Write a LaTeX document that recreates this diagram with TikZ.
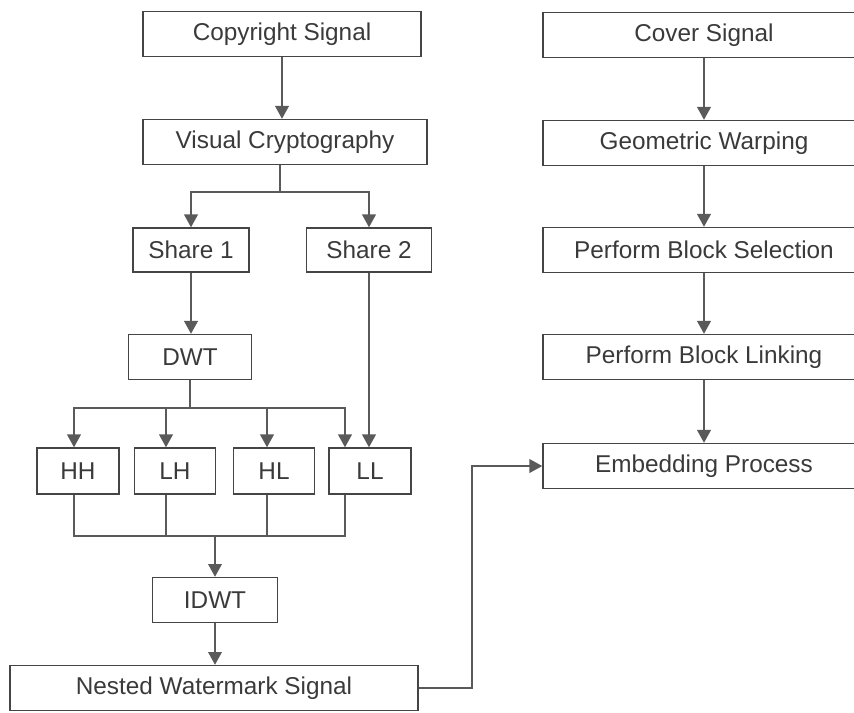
\documentclass[tikz,border=0pt]{standalone}
\usepackage{fontspec}
\setmainfont{Liberation Sans}
\usetikzlibrary{positioning}
\usetikzlibrary{arrows.meta}
\definecolor{linegray}{HTML}{5A5A5A}
\definecolor{boxgray}{HTML}{454545}
\definecolor{textgray}{HTML}{3A3A3A}
\tikzset{
    blk/.style = {rectangle, draw=boxgray, line width=1pt, minimum height=1.125cm, inner sep=0pt, align=center, font=\fontsize{17.3}{20}\selectfont, text=textgray},
    blkr/.style = {blk, minimum width=8.05cm},
    flow/.style = {-{Triangle[width=0.34cm,length=0.32cm]}, line width=1.3pt, linegray},
    link/.style = {-, line width=1.3pt, linegray},
}

\begin{document}
\begin{tikzpicture}[x=0.025cm, y=-0.025cm]
\useasboundingbox (0,0) rectangle (854,712);
%
\node[blk, minimum width=6.95cm] at (282, 34) (copy) {Copyright Signal};
\node[blk, minimum width=7.1cm] at (285, 142) (vc) {Visual Cryptography};
\node[blk, minimum width=2.9cm, minimum height=1.1cm] at (191, 250) (s1) {Share 1};
\node[blk, minimum width=3.125cm, minimum height=1.1cm] at (369, 250) (s2) {Share 2};
\node[blk, minimum width=3.075cm] at (190, 357) (dwt) {DWT};
\node[blk, minimum width=2.05cm, minimum height=1.15cm] at (78, 471) (hh) {HH};
\node[blk, minimum width=2.025cm, minimum height=1.15cm] at (175, 471) (lh) {LH};
\node[blk, minimum width=2.025cm, minimum height=1.15cm] at (274, 471) (hl) {HL};
\node[blk, minimum width=2.05cm, minimum height=1.15cm] at (370, 471) (ll) {LL};
\node[blk, minimum width=3.125cm] at (215, 600) (idwt) {IDWT};
\node[blk, minimum width=10.2cm] at (214, 688) (nws) {Nested Watermark Signal};
%
\node[blkr] at (704, 35) (cover) {Cover Signal};
\node[blkr] at (704, 143) (geo) {Geometric Warping};
\node[blkr] at (704, 250) (sel) {Perform Block Selection};
\node[blkr] at (704, 357) (lnk) {Perform Block Linking};
\node[blkr] at (704, 466) (emb) {Embedding Process};
%
\coordinate (vcsplit) at (280, 192);
\coordinate (dwtsplit) at (190, 408);
\coordinate (merge) at (215, 536);
\coordinate (turn) at (472, 580);
%
\draw[flow] (copy.south) -- (copy.south |- vc.north);
\draw[link] (vc.south -| vcsplit) -- (vcsplit);
\draw[flow] (vcsplit) -| (s1.north);
\draw[flow] (vcsplit) -| (s2.north);
\draw[flow] (s1.south) -- (s1.south |- dwt.north);
\draw[flow] (s2.south) -- (ll.north -| s2.south);
%
\draw[link] (dwt.south) -- (dwtsplit);
\draw[flow] (dwtsplit) -| ([xshift=-0.1cm]hh.north);
\draw[flow] (dwtsplit) -| ([xshift=-0.225cm]lh.north);
\draw[flow] (dwtsplit) -| ([xshift=-0.175cm]hl.north);
\draw[flow] (dwtsplit) -| ([xshift=-0.625cm]ll.north);
%
\draw[link] ([xshift=-0.1cm]hh.south) |- (merge);
\draw[link] ([xshift=-0.225cm]lh.south) |- (merge);
\draw[link] ([xshift=-0.175cm]hl.south) |- (merge);
\draw[link] ([xshift=-0.625cm]ll.south) |- (merge);
\draw[flow] (merge) -- (idwt.north);
\draw[flow] (idwt.south) -- (idwt.south |- nws.north);
\draw[flow] (nws.east) -| (turn) |- (emb.west);
%
\draw[flow] (cover) -- (geo);
\draw[flow] (geo) -- (sel);
\draw[flow] (sel) -- (lnk);
\draw[flow] (lnk) -- (emb);
\end{tikzpicture}
\end{document}
